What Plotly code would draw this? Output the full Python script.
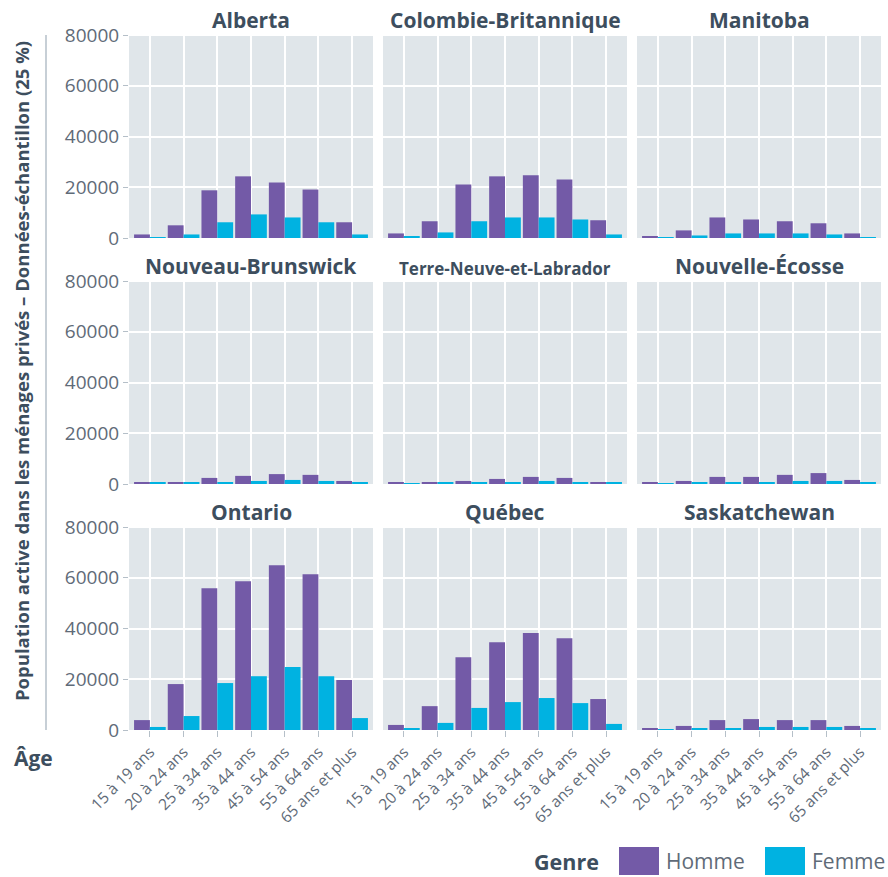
import plotly.graph_objects as go

W, H = 888, 877

ages = ["15 à 19 ans", "20 à 24 ans", "25 à 34 ans", "35 à 44 ans",
        "45 à 54 ans", "55 à 64 ans", "65 ans et plus"]

provinces = ["Alberta", "Colombie-Britannique", "Manitoba",
             "Nouveau-Brunswick", "Terre-Neuve-et-Labrador", "Nouvelle-Écosse",
             "Ontario", "Québec", "Saskatchewan"]

alberta_h = [1400, 5000, 18800, 24300, 21900, 19100, 6200]
alberta_f = [300, 1400, 6200, 9300, 8100, 6200, 1400]
cb_h = [1800, 6600, 21100, 24300, 24700, 23100, 7000]
cb_f = [700, 2200, 6600, 8100, 8100, 7300, 1400]
manitoba_h = [700, 3000, 8100, 7300, 6600, 5800, 1800]
manitoba_f = [300, 1000, 1800, 1800, 1800, 1400, 300]
nb_h = [400, 800, 2400, 3200, 3900, 3600, 1200]
nb_f = [400, 400, 800, 1200, 1600, 1200, 400]
tnl_h = [400, 800, 1200, 2000, 2800, 2400, 800]
tnl_f = [100, 400, 400, 800, 1200, 800, 400]
ne_h = [400, 1200, 2800, 2800, 3600, 4300, 1600]
ne_f = [100, 400, 800, 800, 1200, 1200, 400]
ontario_h = [3900, 18100, 55900, 58600, 64900, 61400, 19700]
ontario_f = [1200, 5500, 18500, 21200, 24800, 21200, 4700]
quebec_h = [2000, 9400, 28700, 34600, 38200, 36200, 12200]
quebec_f = [800, 2800, 8700, 11000, 12600, 10600, 2400]
sask_h = [400, 1600, 3900, 4300, 3900, 3900, 1600]
sask_f = [100, 400, 800, 1200, 1200, 1200, 400]

homme = [alberta_h, cb_h, manitoba_h, nb_h, tnl_h, ne_h, ontario_h, quebec_h, sask_h]
femme = [alberta_f, cb_f, manitoba_f, nb_f, tnl_f, ne_f, ontario_f, quebec_f, sask_f]

y_ticks = [0, 20000, 40000, 60000, 80000]

C_H = "#735AA7"
C_F = "#00B2E1"
BG = "#E0E6EA"
TITLE_C = "#3D4E5E"
TICK_C = "#5F6B78"
FONT = "Open Sans"

col_x = [(129, 373), (383, 627), (637, 881)]
row_y = [(34, 238), (280, 484), (526, 730)]


def px(x):
    return x / W


def py(y):
    return 1 - y / H


fig = go.Figure()
layout = dict(
    width=W, height=H,
    margin=dict(l=0, r=0, t=0, b=0, autoexpand=False),
    paper_bgcolor="white",
    plot_bgcolor=BG,
    barmode="group",
    bargap=0.06,
    bargroupgap=0,
    showlegend=False,
    font=dict(family=FONT, color=TICK_C),
)

annotations = []
shapes = []

for i, prov in enumerate(provinces):
    r, c = divmod(i, 3)
    n = i + 1
    xa = "x" if n == 1 else f"x{n}"
    ya = "y" if n == 1 else f"y{n}"
    fig.add_trace(go.Bar(x=ages, y=homme[i], name="Homme", marker_color=C_H,
                         marker_line_width=0, xaxis=xa, yaxis=ya))
    fig.add_trace(go.Bar(x=ages, y=femme[i], name="Femme", marker_color=C_F,
                         marker_line_width=0, xaxis=xa, yaxis=ya))
    x0, x1 = col_x[c]
    y0, y1 = row_y[r]
    xkey = "xaxis" if n == 1 else f"xaxis{n}"
    ykey = "yaxis" if n == 1 else f"yaxis{n}"
    layout[xkey] = dict(
        domain=[px(x0), px(x1)], anchor=ya, automargin=False,
        type="category", categoryorder="array", categoryarray=ages,
        range=[-0.62, 6.62],
        showgrid=True, gridcolor="white", gridwidth=1.5,
        showticklabels=(r == 2), tickangle=-45,
        ticks="outside" if r == 2 else "", ticklen=6, tickcolor="#B5BFC8",
        tickfont=dict(family=FONT, size=15.5, color=TICK_C),
        zeroline=False, showline=False, fixedrange=True,
    )
    layout[ykey] = dict(
        domain=[py(y1), py(y0)], anchor=xa, automargin=False,
        range=[0, 80400],
        tickvals=y_ticks, ticktext=[str(v) for v in y_ticks],
        showgrid=True, gridcolor="white", gridwidth=1.5,
        showticklabels=(c == 0),
        ticks="outside" if c == 0 else "", ticklen=5, tickcolor="#B5BFC8",
        tickfont=dict(family=FONT, size=19, color=TICK_C),
        zeroline=False, showline=False, fixedrange=True,
    )
    tsize = 17 if prov == "Terre-Neuve-et-Labrador" else 21
    annotations.append(dict(
        text=f"<b>{prov}</b>", xref="paper", yref="paper",
        x=px((x0 + x1) / 2), y=py(y0 + 2), xanchor="center", yanchor="bottom",
        showarrow=False, font=dict(family=FONT, size=tsize, color=TITLE_C),
    ))

# y-axis title and separator line
annotations.append(dict(
    text="<b>Population active dans les ménages privés – Données-échantillon (25 %)</b>",
    xref="paper", yref="paper", x=px(22), y=py(371), textangle=-90,
    xanchor="center", yanchor="middle", showarrow=False,
    font=dict(family=FONT, size=18.5, color=TITLE_C),
))
shapes.append(dict(type="line", xref="paper", yref="paper",
                   x0=px(46), x1=px(46), y0=py(35), y1=py(730),
                   line=dict(color="#B5BFC8", width=1.5)))
annotations.append(dict(
    text="<b>Âge</b>", xref="paper", yref="paper", x=px(33), y=py(758),
    xanchor="center", yanchor="middle", showarrow=False,
    font=dict(family=FONT, size=21, color=TITLE_C),
))

# custom legend
annotations.append(dict(
    text="<b>Genre</b>", xref="paper", yref="paper", x=px(601), y=py(861),
    xanchor="right", yanchor="middle", showarrow=False,
    font=dict(family=FONT, size=21.5, color=TITLE_C),
))
for name, color, sx in [("Homme", C_H, 619), ("Femme", C_F, 765)]:
    shapes.append(dict(type="rect", xref="paper", yref="paper",
                       x0=px(sx), x1=px(sx + 40), y0=py(875), y1=py(847),
                       fillcolor=color, line=dict(width=0)))
    annotations.append(dict(
        text=name, xref="paper", yref="paper", x=px(sx + 45), y=py(861),
        xanchor="left", yanchor="middle", showarrow=False,
        font=dict(family=FONT, size=21, color=TICK_C),
    ))

layout["annotations"] = annotations
layout["shapes"] = shapes
fig.update_layout(**layout)
fig.write_html(
    "out.html",
    config={"displayModeBar": False},
    post_script="document.body.style.margin='0';document.body.style.overflow='hidden';",
)
